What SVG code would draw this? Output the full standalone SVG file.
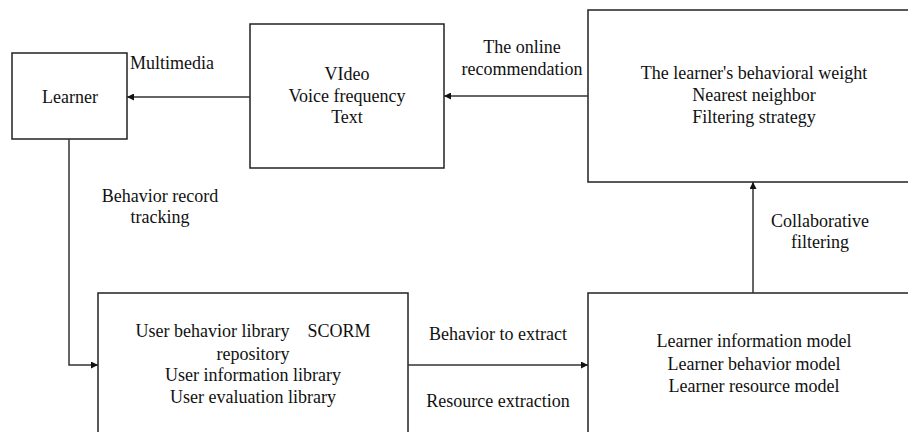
<svg xmlns="http://www.w3.org/2000/svg" width="908" height="432" viewBox="0 0 908 432">
<style>
.box{fill:#fff;stroke:#222;stroke-width:1.5}
.ln{fill:none;stroke:#333;stroke-width:1.5}
text{font-family:"Liberation Serif","Times New Roman",serif;font-size:18px;fill:#111}
.c{text-anchor:middle}
</style>
<defs>
<marker id="ah" viewBox="0 0 10 10" refX="10" refY="5" markerWidth="8" markerHeight="7" markerUnits="userSpaceOnUse" orient="auto">
<path d="M0,0 L10,5 L0,10 Z" fill="#111"/>
</marker>
</defs>
<rect width="908" height="432" fill="#fff"/>
<g id="learner">
<rect class="box" x="12" y="53" width="115" height="86"/>
<text class="c" x="70" y="103">Learner</text>
</g>
<g id="media">
<rect class="box" x="250" y="24" width="194" height="144"/>
<text class="c" x="347" y="80">VIdeo</text>
<text class="c" x="347" y="102">Voice frequency</text>
<text class="c" x="347" y="123">Text</text>
</g>
<g id="strategy">
<rect class="box" x="588" y="10" width="330" height="172"/>
<text class="c" x="754" y="79">The learner's behavioral weight</text>
<text class="c" x="754" y="101">Nearest neighbor</text>
<text class="c" x="754" y="123">Filtering strategy</text>
</g>
<g id="library">
<rect class="box" x="98" y="293" width="310" height="160"/>
<text class="c" x="253" y="337" xml:space="preserve">User behavior library    SCORM</text>
<text class="c" x="253" y="360">repository</text>
<text class="c" x="253" y="381">User information library</text>
<text class="c" x="253" y="403">User evaluation library</text>
</g>
<g id="models">
<rect class="box" x="588" y="293" width="330" height="160"/>
<text class="c" x="754" y="347">Learner information model</text>
<text class="c" x="754" y="370">Learner behavior model</text>
<text class="c" x="754" y="392">Learner resource model</text>
</g>
<g id="connectors">
<path class="ln" d="M250,97 L127,97" marker-end="url(#ah)"/>
<path class="ln" d="M588,96 L444,96" marker-end="url(#ah)"/>
<path class="ln" d="M69,139 L69,365 L98,365" marker-end="url(#ah)"/>
<path class="ln" d="M408,365 L588,365" marker-end="url(#ah)"/>
<path class="ln" d="M753,293 L753,182" marker-end="url(#ah)"/>
<text x="130" y="69">Multimedia</text>
<text class="c" x="522" y="53">The online</text>
<text class="c" x="522" y="75">recommendation</text>
<text class="c" x="160" y="202">Behavior record</text>
<text class="c" x="160" y="223">tracking</text>
<text class="c" x="498" y="340">Behavior to extract</text>
<text class="c" x="498" y="407">Resource extraction</text>
<text class="c" x="820" y="227">Collaborative</text>
<text class="c" x="820" y="248">filtering</text>
</g>
</svg>
